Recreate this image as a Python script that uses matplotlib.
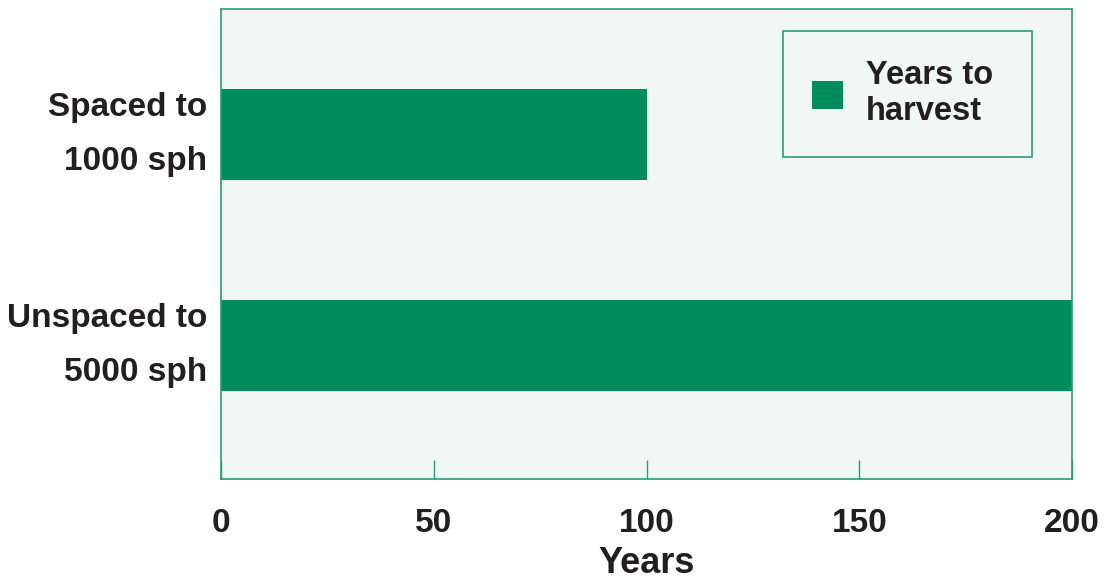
import matplotlib
matplotlib.use("Agg")
import matplotlib.pyplot as plt

# Daten
categories = ["Unspaced to\n5000 sph", "Spaced to\n1000 sph"]
years_to_harvest = [200, 100]
x_ticks = [0, 50, 100, 150, 200]

green = "#008c5c"
bg = "#f0f7f4"
edge = "#2a9d72"
text_col = "#231f20"

plt.rcParams["font.family"] = ["Liberation Sans", "DejaVu Sans"]
plt.rcParams["font.weight"] = "bold"

fig = plt.figure(figsize=(11.06, 5.79), dpi=100)
ax = fig.add_axes([221 / 1106, 1 - 479 / 579, 851 / 1106, 470 / 579])
ax.set_facecolor(bg)

pos = list(range(len(categories)))
ax.barh(pos, years_to_harvest, height=0.43, color=green, label="Years to\nharvest")

ax.set_xlim(0, 200)
ax.set_ylim(-0.633, 1.595)
ax.set_xticks(x_ticks)
ax.set_xticklabels([str(t) for t in x_ticks], fontsize=24, fontweight="bold", color=text_col)
ax.set_yticks(pos)
ax.set_yticklabels(categories, fontsize=24, fontweight="bold", color=text_col,
                   linespacing=1.95, multialignment="right")
for lbl in ax.get_yticklabels():
    lbl.set_verticalalignment("center")
ax.tick_params(axis="x", direction="in", length=14, width=1, color=edge, pad=21)
ax.tick_params(axis="y", length=0, pad=10)
for s in ax.spines.values():
    s.set_color(edge)
    s.set_linewidth(1.2)

ax.set_xlabel("Years", fontsize=26, fontweight="bold", color=text_col, labelpad=5)

# Legende mit fester Breite (mode="expand")
leg = ax.legend(loc="upper left", bbox_to_anchor=(0.660, 0.696, 0.293, 0.257),
                mode="expand", borderaxespad=0,
                frameon=True, fancybox=False, handlelength=0.95,
                handleheight=0.95, handletextpad=0.7, borderpad=0.9,
                prop={"weight": "bold", "size": 23.5})
leg.get_frame().set_edgecolor(edge)
leg.get_frame().set_facecolor(bg)
leg.get_frame().set_linewidth(1.2)
leg.get_frame().set_alpha(1)
for t in leg.get_texts():
    t.set_color(text_col)
    t.set_linespacing(1.2)

fig.savefig("out.png", dpi=100)
